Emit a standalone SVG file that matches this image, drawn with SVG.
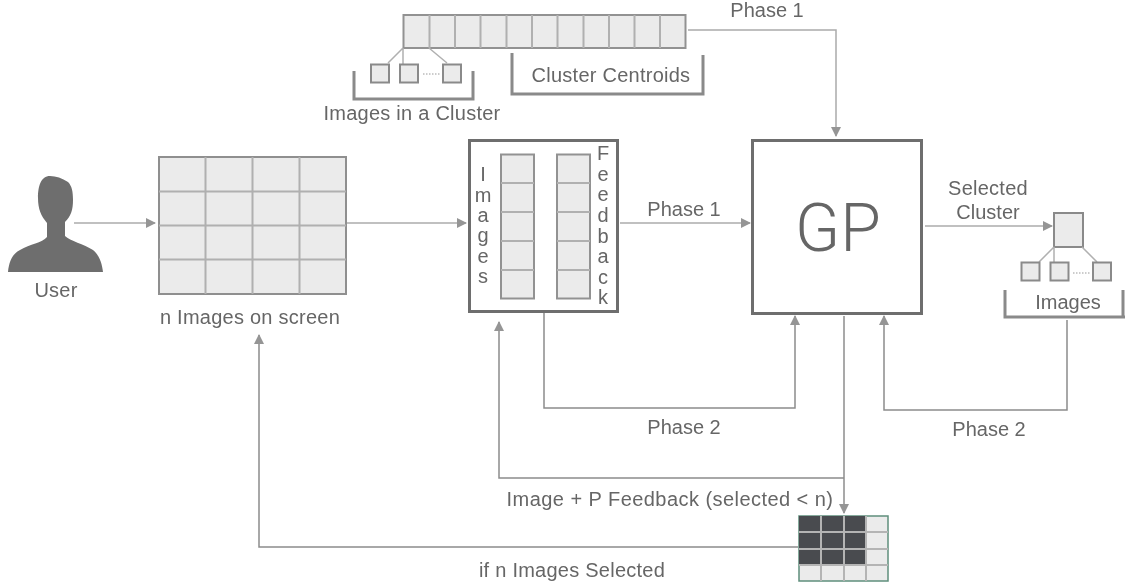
<svg xmlns="http://www.w3.org/2000/svg" width="1130" height="588" viewBox="0 0 1130 588">
<style>
text{font-family:"Liberation Sans",Arial,sans-serif;fill:#666;font-size:20px;text-anchor:middle}
.cell{fill:#ebebeb;stroke:#929292;stroke-width:2}
.div{stroke:#b0b0b0;stroke-width:2;fill:none}
.box{fill:#fff;stroke:#6e6e6e;stroke-width:3}
.br{fill:none;stroke:#8a8a8a;stroke-width:3}
.tie{fill:none;stroke:#b0b0b0;stroke-width:1.5}
.dots{stroke:#999;stroke-width:1;stroke-dasharray:1.5 1.5}
.c{fill:none;stroke:#8c8c8c;stroke-width:1.5}
.cl{fill:none;stroke:#ababab;stroke-width:1.5}
.dark{fill:#4a4c50}
.small{fill:#ebebeb;stroke:#8a8a8a;stroke-width:2}
.sp{letter-spacing:.25px}
</style>
<defs>
<marker id="a" markerUnits="userSpaceOnUse" markerWidth="10" markerHeight="12" refX="9" refY="5" orient="auto"><path d="M0 0L10 5L0 10Z" fill="#959595"/></marker>
<filter id="soft" x="0" y="0" width="100%" height="100%"><feGaussianBlur stdDeviation="0.5"/></filter>
</defs>
<g filter="url(#soft)">
<rect width="1130" height="588" fill="#fff"/>
<g id="connectors">
<path class="cl" d="M74 223H155" marker-end="url(#a)"/>
<path class="cl" d="M347 223H466" marker-end="url(#a)"/>
<path class="cl" d="M620 223H750" marker-end="url(#a)"/>
<path class="cl" d="M688 30H836V136" marker-end="url(#a)"/>
<path class="cl" d="M925 226H1052" marker-end="url(#a)"/>
<path class="c" d="M544 312V408H795V316" marker-end="url(#a)"/>
<path class="c" d="M1067 320V410H884V316" marker-end="url(#a)"/>
<path class="c" d="M844 316V513" marker-end="url(#a)"/>
<path class="c" d="M844 478H499V322" marker-end="url(#a)"/>
<path class="c" d="M798 547H259V335" marker-end="url(#a)"/>
</g>
<g id="user">
<path fill="#6e6e6e" d="M50 176C56 176 62 178 68 182C72 186 73 192 73 200C73 210 71 216 65 222V236C70 241 84 244 93 250C100 256 102 264 103 272H8C9 262 12 254 20 250C30 244 42 243 47 237V223C41 216 38 209 38 198C38 186 41 176 50 176Z"/>
<text x="56" y="297" class="sp">User</text>
</g>
<g id="screen">
<rect x="159" y="157" width="187" height="137" fill="#ebebeb" stroke="#8f8f8f" stroke-width="2"/>
<path class="div" d="M205.500 157V294M252.500 157V294M299.500 157V294M159 191.500H346M159 225.500H346M159 259.500H346"/>
<text x="250" y="324" class="sp">n Images on screen</text>
</g>
<g id="images-feedback">
<rect class="box" x="469.500" y="140.500" width="148" height="171"/>
<rect class="cell" x="501" y="154.500" width="33" height="144"/>
<path class="div" d="M501 183H534M501 212H534M501 241H534M501 270H534"/>
<rect class="cell" x="557" y="154.500" width="33" height="144"/>
<path class="div" d="M557 183H590M557 212H590M557 241H590M557 270H590"/>
<g style="font-size:16px">
<text x="483" y="181">I</text><text x="483" y="202">m</text><text x="483" y="222">a</text><text x="483" y="242">g</text><text x="483" y="263">e</text><text x="483" y="283">s</text>
<text x="603" y="160">F</text><text x="603" y="181">e</text><text x="603" y="201">e</text><text x="603" y="222">d</text><text x="603" y="243">b</text><text x="603" y="263">a</text><text x="603" y="284">c</text><text x="603" y="304">k</text>
</g>
</g>
<g id="gp">
<rect class="box" x="752.500" y="140.500" width="169" height="173"/>
<text x="838" y="251" style="font-family:Roboto,'Liberation Sans',sans-serif;font-weight:300;font-size:66px">GP</text>
</g>
<g id="centroids">
<rect class="cell" x="403.500" y="15" width="282" height="33" stroke-width="2.500"/>
<path class="div" d="M429.500 15V48M455 15V48M480.500 15V48M506.500 15V48M532 15V48M557.500 15V48M583.500 15V48M609 15V48M634.500 15V48M660 15V48"/>
<path class="br" d="M512 53V94H703V55"/>
<text x="611" y="82" class="sp">Cluster Centroids</text>
</g>
<g id="cluster-images">
<path class="tie" d="M403 48L388 63M403 48V64M429 48L447 63"/>
<rect class="small" x="371" y="64.500" width="18" height="18"/>
<rect class="small" x="400" y="64.500" width="18" height="18"/>
<rect class="small" x="443" y="64.500" width="18" height="18"/>
<path class="dots" d="M423 74H441"/>
<path class="br" d="M354 71V99H473V71"/>
<text x="412" y="120" class="sp">Images in a Cluster</text>
</g>
<g id="selected-cluster">
<rect class="small" x="1054" y="213" width="29" height="34"/>
<path class="tie" d="M1054 247L1039 262M1054 247V262M1082 247L1097 262"/>
<rect class="small" x="1021.500" y="262.500" width="18" height="18"/>
<rect class="small" x="1050.500" y="262.500" width="18" height="18"/>
<rect class="small" x="1093" y="262.500" width="18" height="18"/>
<path class="dots" d="M1073 273H1091"/>
<path class="br" d="M1005 290V317H1125M1123 290V317"/>
<text x="1068" y="309">Images</text>
</g>
<g id="selection">
<rect x="799" y="516" width="89" height="65" fill="#ebebeb" stroke="#5f8f7c" stroke-width="1.500"/>
<rect class="dark" x="799" y="516" width="67" height="49"/>
<path class="div" d="M821 516V581M844 516V581M866 516V581M799 532H888M799 549H888M799 565H888" style="stroke:#b4b4b4"/>
</g>
<g id="labels">
<text x="767" y="17">Phase 1</text>
<text x="684" y="216">Phase 1</text>
<text x="988" y="195" class="sp">Selected</text>
<text x="988" y="219">Cluster</text>
<text x="684" y="434">Phase 2</text>
<text x="989" y="436">Phase 2</text>
<text x="670" y="506" style="letter-spacing:.45px">Image + P Feedback (selected &lt; n)</text>
<text x="572" y="577" class="sp">if n Images Selected</text>
</g>
</g>
</svg>
